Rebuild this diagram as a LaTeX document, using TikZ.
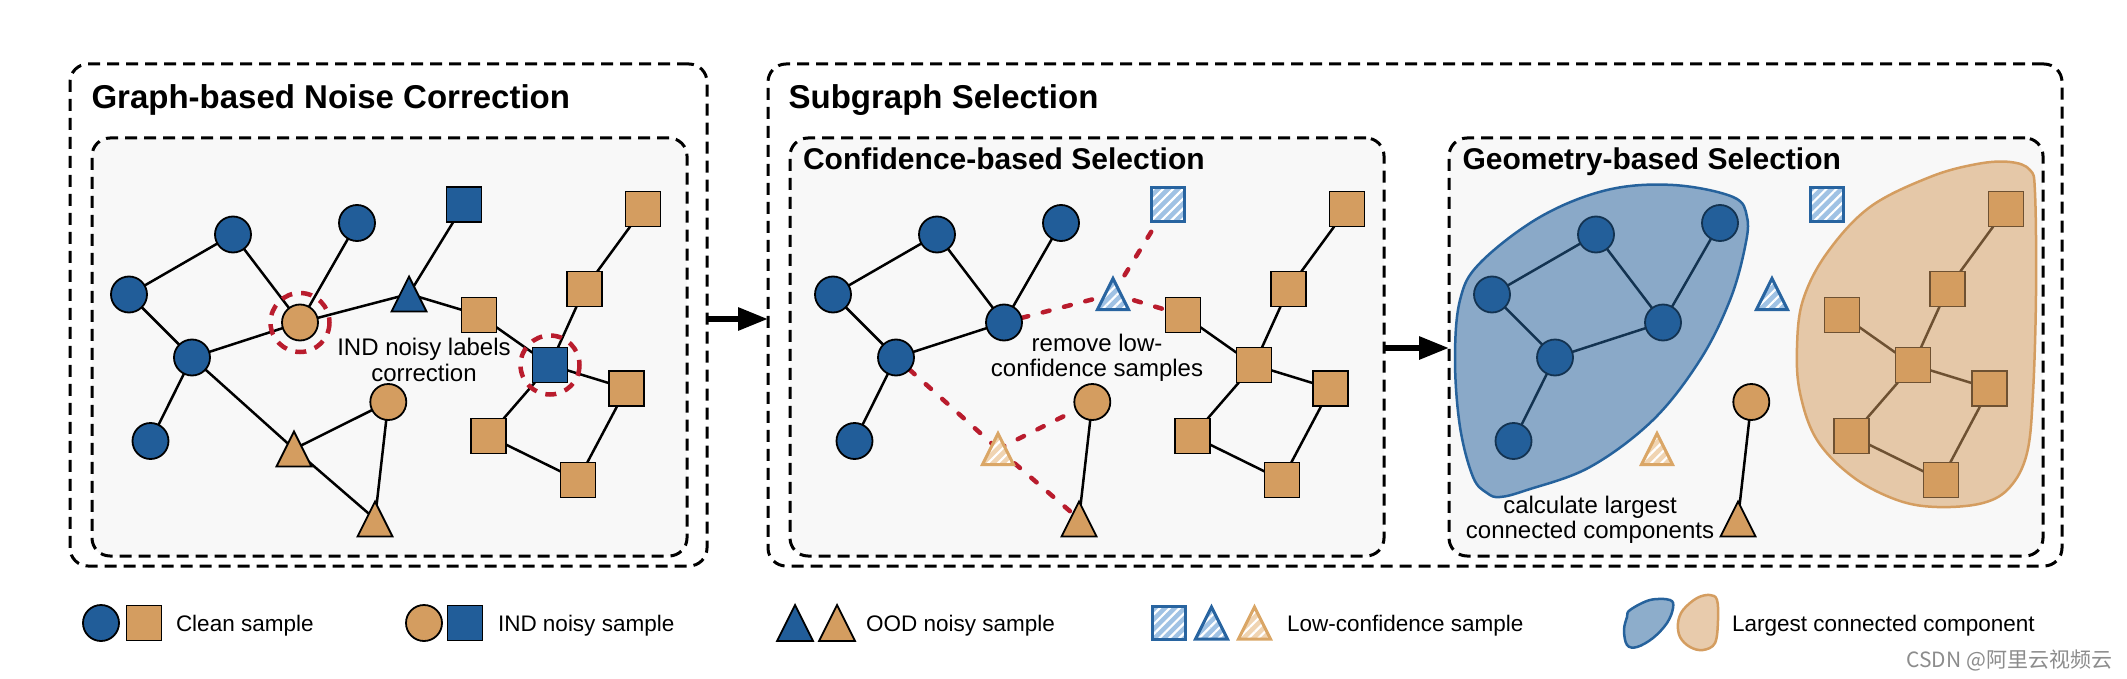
\documentclass[tikz,border=0pt]{standalone}
\usepackage{fontspec}
\setmainfont{Liberation Sans}
\newfontfamily\cjkfont{Noto Sans CJK SC}
\usetikzlibrary{arrows.meta,patterns.meta}
\definecolor{nblue}{RGB}{33,93,153}
\definecolor{norange}{RGB}{212,157,96}
\definecolor{hblue}{RGB}{160,194,228}
\definecolor{hblueline}{RGB}{40,100,160}
\definecolor{horange}{RGB}{240,212,178}
\definecolor{horangeline}{RGB}{218,166,102}
\definecolor{nred}{RGB}{185,28,45}
\definecolor{panel}{RGB}{248,248,248}
\definecolor{blobblue}{RGB}{38,98,156}
\definecolor{bloborange}{RGB}{212,157,96}
\pgfdeclarelayer{bg}
\pgfdeclarelayer{edges}
\pgfdeclarelayer{blobs}
\pgfsetlayers{bg,edges,main,blobs}
\newcommand{\mytri}[4][]{%
  \coordinate (#2) at #3;
  \path[#1, shift={(#2)}] (-#4,#4) -- (#4,#4) -- (0,-#4) -- cycle;}
\tikzset{
  every node/.style={inner sep=0pt, outer sep=0pt},
  bc/.style={circle, draw=black, line width=1.8pt, fill=nblue, minimum size=36pt},
  oc/.style={bc, fill=norange},
  bs/.style={rectangle, draw=black, line width=1.8pt, fill=nblue, minimum size=35pt},
  os/.style={bs, fill=norange},
  hs/.style={rectangle, draw=hblueline, line width=3pt, preaction={fill=hblue},
    pattern={Lines[angle=45,distance=7pt,line width=2.2pt]}, pattern color=white, minimum size=33pt},
  btri/.style={draw=black, line width=1.8pt, fill=nblue},
  otri/.style={btri, fill=norange},
  hbtri/.style={draw=hblueline, line width=3pt, preaction={fill=hblue},
    pattern={Lines[angle=45,distance=7pt,line width=2.2pt]}, pattern color=white},
  hotri/.style={draw=horangeline, line width=3pt, preaction={fill=horange},
    pattern={Lines[angle=45,distance=7pt,line width=2.2pt]}, pattern color=white},
  link/.style={draw=black, line width=2.5pt},
  rdash/.style={draw=nred, line width=4.5pt, line cap=round, dash pattern=on 7pt off 15pt},
  ring/.style={draw=nred, line width=4.5pt, dash pattern=on 11pt off 9pt},
  dbox/.style={rectangle, draw=black, line width=3pt, dash pattern=on 12pt off 7pt, rounded corners=18pt},
  ttl/.style={font=\fontsize{33}{38}\selectfont\bfseries, anchor=base west},
  sttl/.style={font=\fontsize{30}{34}\selectfont\bfseries, anchor=base west},
  notetxt/.style={font=\fontsize{24}{28}\selectfont, anchor=base},
  legtxt/.style={font=\fontsize{22.5}{26}\selectfont, anchor=base west},
  bigarrow/.style={line width=6pt, -{Triangle[length=30pt,width=22pt]}},
  blobb/.style={draw=blobblue, line width=2.5pt, fill=blobblue, fill opacity=0.52},
  blobo/.style={draw=bloborange, line width=2.5pt, fill=bloborange, fill opacity=0.52},
  wmark/.style={font=\cjkfont\fontsize{21}{24}\selectfont, text=black!45, anchor=base east},
}
\begin{document}
\begin{tikzpicture}[x=1pt,y=-1pt]
\useasboundingbox (0,0) rectangle (2127,679);
\begin{pgfonlayer}{bg}
\fill[white] (0,0) rectangle (2127,679);
\node[dbox, minimum width=637pt, minimum height=502pt] (G1) at (388.5,315) {};
\node[dbox, fill=panel, minimum width=595pt, minimum height=418pt] (G1in) at (389.5,347) {};
\node[dbox, minimum width=1294pt, minimum height=502pt] (S) at (1415,315) {};
\node[dbox, fill=panel, minimum width=594pt, minimum height=418pt] (Sa) at (1087,347) {};
\node[dbox, fill=panel, minimum width=594pt, minimum height=418pt] (Sb) at (1746,347) {};
\end{pgfonlayer}

% titles
\node[ttl] (t1) at (91.5,109) {Graph-based Noise Correction};
\node[ttl] (t2) at (788.6,109) {Subgraph Selection};
\node[sttl] (t3) at (803,170) {Confidence-based Selection};
\node[sttl] (t4) at (1462.5,170) {Geometry-based Selection};

% arrows between panels
\draw[bigarrow] (G1.east |- 0,319) -- (S.west |- 0,319);
\draw[bigarrow] (Sa.east |- 0,348) -- (Sb.west |- 0,348);

% ---------- graph 1
\node[bc] (A-c3) at (129,294.5) {};
\node[bc] (A-c1) at (233,234.5) {};
\node[bc] (A-c2) at (357,223) {};
\node[oc] (A-mid) at (300,322.5) {};
\node[bc] (A-c4) at (192,357.5) {};
\node[bc] (A-c5) at (150.5,441) {};
\node[bs] (A-sq) at (464,204.5) {};
\mytri[btri]{A-tri}{(409,294)}{17.5}
\node[os] (A-s1) at (479,315) {};
\node[os] (A-sTR) at (643,209) {};
\node[os] (A-s2) at (584.5,289) {};
\node[bs] (A-sC) at (550,365) {};
\node[os] (A-s3) at (626.5,388.5) {};
\node[os] (A-s4) at (488.5,436) {};
\node[os] (A-s5) at (578,480) {};
\node[oc] (A-oc2) at (388.3,402) {};
\mytri[otri]{A-t1}{(294,449)}{17.5}
\mytri[otri]{A-t2}{(375,519)}{17.5}
\draw[ring] (A-mid) circle[radius=29.5];
\draw[ring] (A-sC) circle[radius=29.5];
\node[notetxt] (n1a) at (424,355) {IND noisy labels};
\node[notetxt] (n1b) at (424,381.7) {correction};

% ---------- graph 2a
\node[bc] (B-c3) at (704+129,294.5) {};
\node[bc] (B-c1) at (704+233,234.5) {};
\node[bc] (B-c2) at (704+357,223) {};
\node[bc] (B-mid) at (704+300,322.5) {};
\node[bc] (B-c4) at (704+192,357.5) {};
\node[bc] (B-c5) at (704+150.5,441) {};
\node[hs] (B-sq) at (704+464,204.5) {};
\mytri[hbtri]{B-tri}{(704+409,294)}{15.5}
\node[os] (B-s1) at (704+479,315) {};
\node[os] (B-sTR) at (704+643,209) {};
\node[os] (B-s2) at (704+584.5,289) {};
\node[os] (B-sC) at (704+550,365) {};
\node[os] (B-s3) at (704+626.5,388.5) {};
\node[os] (B-s4) at (704+488.5,436) {};
\node[os] (B-s5) at (704+578,480) {};
\node[oc] (B-oc2) at (704+388.3,402) {};
\mytri[hotri]{B-t1}{(704+294,449)}{15.5}
\mytri[otri]{B-t2}{(704+375,519)}{17.5}
\node[notetxt] (n2a) at (1097,351.7) {remove low-};
\node[notetxt] (n2b) at (1097,376.7) {confidence samples};

% ---------- graph 2b
\node[bc] (C-c3) at (1363+129,294.5) {};
\node[bc] (C-c1) at (1363+233,234.5) {};
\node[bc] (C-c2) at (1363+357,223) {};
\node[bc] (C-mid) at (1363+300,322.5) {};
\node[bc] (C-c4) at (1363+192,357.5) {};
\node[bc] (C-c5) at (1363+150.5,441) {};
\node[hs] (C-sq) at (1363+464,204.5) {};
\mytri[hbtri]{C-tri}{(1363+409,294)}{15.5}
\node[os] (C-s1) at (1363+479,315) {};
\node[os] (C-sTR) at (1363+643,209) {};
\node[os] (C-s2) at (1363+584.5,289) {};
\node[os] (C-sC) at (1363+550,365) {};
\node[os] (C-s3) at (1363+626.5,388.5) {};
\node[os] (C-s4) at (1363+488.5,436) {};
\node[os] (C-s5) at (1363+578,480) {};
\node[oc] (C-oc2) at (1363+388.3,402) {};
\mytri[hotri]{C-t1}{(1363+294,449)}{15.5}
\mytri[otri]{C-t2}{(1363+375,519)}{17.5}
\node[notetxt] (n3a) at (1590,513.3) {calculate largest};
\node[notetxt] (n3b) at (1590,538.3) {connected components};

% ---------- edges
\begin{pgfonlayer}{edges}
\foreach \p in {A,B,C}{
  \draw[link] (\p-c3)--(\p-c1) (\p-c1)--(\p-mid) (\p-c2)--(\p-mid) (\p-c3)--(\p-c4)
    (\p-c4)--(\p-mid) (\p-c4)--(\p-c5) (\p-oc2)--(\p-t2) (\p-s1)--(\p-sC)
    (\p-sC)--(\p-s2) (\p-s2)--(\p-sTR) (\p-sC)--(\p-s3) (\p-sC)--(\p-s4)
    (\p-s4)--(\p-s5) (\p-s5)--(\p-s3);
}
\draw[link] (A-mid)--(A-tri) (A-tri)--(A-sq) (A-tri)--(A-s1) (A-c4)--(A-t1)
  (A-t1)--(A-oc2) (A-t1)--(A-t2);
\draw[rdash] (B-mid)--(B-tri);
\draw[rdash] (B-tri)--(B-s1);
\draw[rdash] (B-tri)--(B-sq);
\draw[rdash] (B-c4)--(B-t1);
\draw[rdash] (B-t1)--(B-oc2);
\draw[rdash] (B-t1)--(B-t2);
\end{pgfonlayer}

% ---------- largest connected components (overlays)
\begin{pgfonlayer}{blobs}
\path[blobb] plot[smooth cycle, tension=0.6] coordinates {(1480,263) (1540,217) (1607,190) (1673,185) (1733,197) (1747,217) (1745,247) (1730,300) (1700,360) (1653,420) (1590,467) (1527,490) (1500,497) (1487,493) (1473,477) (1460,427) (1455,360) (1460,300)};
\path[blobo] plot[smooth cycle, tension=0.6] coordinates {(1977,164) (2010,162) (2030,170) (2035,193) (2036,293) (2033,393) (2027,453) (2010,487) (1983,503) (1937,507) (1897,500) (1853,477) (1817,440) (1800,393) (1797,347) (1803,300) (1827,253) (1870,207) (1930,177)};
\path[blobb] plot[smooth cycle, tension=0.6] coordinates {(1630,610) (1650,600) (1670,600) (1673,608) (1667,623) (1653,638) (1637,647) (1627,645) (1624,630) (1627,617)};
\path[blobo] plot[smooth cycle, tension=0.6] coordinates {(1697,598) (1710,595) (1717,600) (1718,620) (1715,643) (1703,650) (1690,647) (1680,637) (1678,623) (1683,610)};
\end{pgfonlayer}

% ---------- legend
\node[bc] (L-c1) at (101,623) {};
\node[os] (L-s1) at (144,623) {};
\node[legtxt] (L-t1) at (176,631.7) {Clean sample};
\node[oc] (L-c2) at (424,623) {};
\node[bs] (L-s2) at (465,623) {};
\node[legtxt] (L-t2) at (498,631.7) {IND noisy sample};
\mytri[btri]{L-tr1}{(795,623)}{18}
\mytri[otri]{L-tr2}{(837,623)}{18}
\node[legtxt] (L-t3) at (866,631.7) {OOD noisy sample};
\node[hs] (L-hs) at (1169,623) {};
\mytri[hbtri]{L-tr3}{(1211.5,623)}{16}
\mytri[hotri]{L-tr4}{(1254.5,623)}{16}
\node[legtxt] (L-t4) at (1287,631.7) {Low-confidence sample};
\node[legtxt] (L-t5) at (1732,631.7) {Largest connected component};
\node[wmark] (wm) at (2112,667) {CSDN @阿里云视频云};
\end{tikzpicture}
\end{document}
